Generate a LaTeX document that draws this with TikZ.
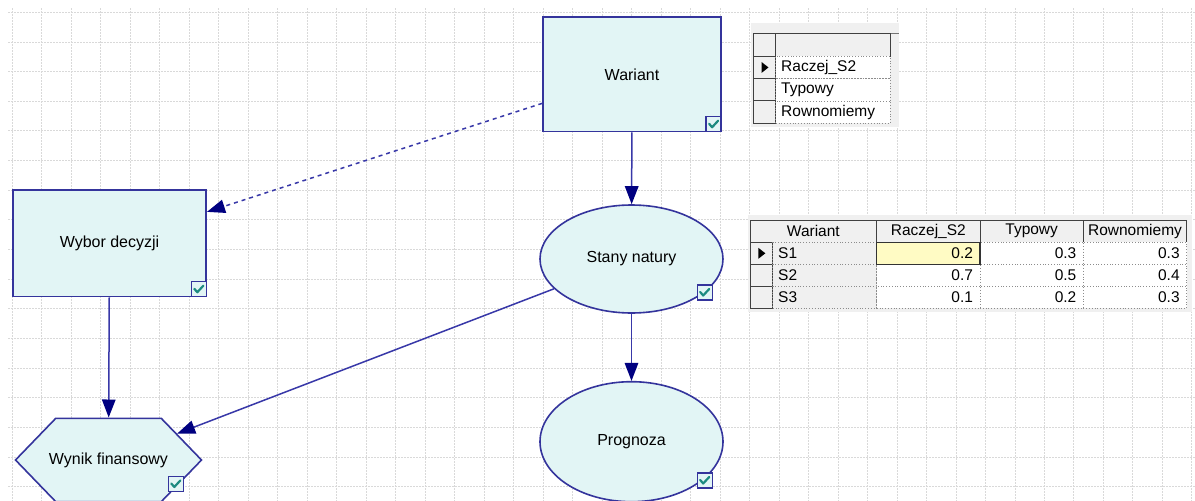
\documentclass[tikz,border=0pt]{standalone}
\usepackage{fontspec}
\setmainfont{Liberation Sans}
\usepackage{xcolor}
\usepackage{tikz}
\usetikzlibrary{arrows.meta}
\usetikzlibrary{shapes.geometric}
\usetikzlibrary{shapes.symbols}
\usetikzlibrary{positioning}
\definecolor{nodefill}{HTML}{E2F5F5}
\definecolor{nodeline}{HTML}{34349C}
\definecolor{linkline}{HTML}{3838A8}
\definecolor{tipnavy}{HTML}{000080}
\definecolor{tickteal}{HTML}{1C8A80}
\definecolor{panel}{HTML}{F0F0F0}
\definecolor{hilite}{HTML}{FFFBC4}
\tikzset{
    netnode/.style = {draw=nodeline, line width=1.6, fill=nodefill, align=center, inner sep=0, font=\fontsize{16}{19}\selectfont},
    decnode/.style = {netnode, rectangle},
    chnnode/.style = {netnode, ellipse, minimum width=183, minimum height=108},
    valnode/.style = {netnode, signal, signal to=west and east, signal pointer angle=92},
    chkbox/.style = {draw=nodeline, line width=1.4, fill=nodefill, minimum size=15, inner sep=0,
        path picture={\draw[tickteal, line width=2.2, line cap=round, line join=round]
            ([shift={(-4.5pt,0.5pt)}]path picture bounding box.center) --
            ([shift={(-1.5pt,-3pt)}]path picture bounding box.center) --
            ([shift={(4.5pt,3.5pt)}]path picture bounding box.center);}},
    link/.style = {draw=linkline, line width=1.5, -{Triangle[width=13.5pt,length=18pt,fill=tipnavy,color=tipnavy]}},
    infolink/.style = {link, dash pattern=on 4pt off 4pt},
    gridline/.style = {draw=black!15, line width=0.9, dash pattern=on 1.5pt off 1.5pt},
    cell/.style = {rectangle, inner sep=0, minimum height=22, font=\fontsize{15.5}{18}\selectfont},
    hcell/.style = {cell, fill=panel, draw=black!75, line width=1},
    selcell/.style = {cell, fill=panel, draw=black!75, line width=1, minimum width=22.5},
    lcell/.style = {cell, fill=panel, draw=black!45, dotted, line width=0.8, inner xsep=5.5, align=left},
    vcell/.style = {cell, fill=white, draw=black!45, dotted, line width=0.8, inner xsep=7, align=right},
}
\begin{document}
\begin{tikzpicture}[x=1pt, y=-1pt]
\useasboundingbox[fill=white] (0,0) rectangle (1195,501);
% background grid
\foreach \i in {0,...,40}
    \draw[gridline] ({12.3+29.49*\i},8) -- ({12.3+29.49*\i},501);
\foreach \j in {0,...,16}
    \draw[gridline] (8,{12.3+29.65*\j}) -- (1195,{12.3+29.65*\j});
%
\node[decnode, minimum width=178, minimum height=114.7] (war) at (632,74.3) {Wariant};
\node[decnode, minimum width=193.4, minimum height=106.7] (wyb) at (109.5,243.3) {Wybor decyzji};
\node[chnnode] (sta) at (631.5,259) {Stany natury};
\node[chnnode, minimum height=120] (prg) at (631.5,441.7) {Prognoza};
% label may run past the flat top of the hexagon
\node[valnode, minimum width=186, minimum height=83.4] (wyn) at (108.5,460) {\makebox[0pt]{Wynik finansowy}};
%
\node[chkbox, anchor=south east] (chkwar) at (war.south east) {};
\node[chkbox, anchor=south east] (chkwyb) at (wyb.south east) {};
\node[chkbox] (chksta) at (704.7,292.5) {};
\node[chkbox] (chkprg) at (704.7,480.5) {};
\node[chkbox] (chkwyn) at (175.8,484) {};
%
\draw[infolink] (war) -- (wyb);
\draw[link] (war) -- (sta);
\draw[link] (sta) -- (prg);
\draw[link] (wyb) -- (wyn);
\draw[link] (sta) -- (wyn);
%
% states of the decision node
\fill[panel] (750.7,22.7) rectangle (899,127);
\draw[black!55, line width=1.5] (753.3,33.3) -- (899,33.3);
\node[selcell, minimum height=23] (s0) at (764.5,44.8) {};
\node[hcell, minimum width=114.3, minimum height=23] (h0) at (832.85,44.8) {};
\foreach \t [count=\r] in {Raczej\_S2, Typowy, Rownomiemy}{
    \node[selcell, minimum height=22.3] (s\r) at (764.5,{56.3+22.3*(\r-0.5)}) {};
    \node[cell, fill=white, draw=black!45, dotted, line width=0.8, inner xsep=5.5, align=left,
        text width=103.3, minimum height=22.3] (d\r) at (832.85,{56.3+22.3*(\r-0.5)}) {\t};
}
\fill (s1.center) ++(-3pt,5.5pt) -- ++(0pt,-11pt) -- ++(7pt,5.5pt) -- cycle;
%
% probability table of the chance node
\fill[panel] (748,215) rectangle (1192,312);
\node[hcell, minimum width=126.7] (hw) at (813.35,231.15) {Wariant};
\node[hcell, minimum width=103.3] (hr) at (928.35,231.15) {Raczej\_S2};
\node[hcell, minimum width=103.3] (ht) at (1031.65,231.15) {Typowy};
\node[hcell, minimum width=103.3] (hn) at (1135,231.15) {Rownomiemy};
\foreach \s/\a/\b/\c [count=\r] in {S1/0.2/0.3/0.3, S2/0.7/0.5/0.4, S3/0.1/0.2/0.3}{
    \pgfmathsetmacro\yc{242.3+22*(\r-0.5)}
    \node[selcell] (t\r) at (761.35,\yc) {};
    \node[lcell, text width=93] (l\r) at (824.7,\yc) {\s};
    \node[vcell, text width=89.3] (a\r) at (928.35,\yc) {\a};
    \node[vcell, text width=89.3] (b\r) at (1031.65,\yc) {\b};
    \node[vcell, text width=89.3] (c\r) at (1135,\yc) {\c};
}
\node[vcell, text width=89.3, fill=hilite, draw=black!80, solid, line width=1.2] (a1) at (928.35,253.3) {0.2};
\fill (t1.center) ++(-3pt,5.5pt) -- ++(0pt,-11pt) -- ++(7pt,5.5pt) -- cycle;
\end{tikzpicture}
\end{document}
